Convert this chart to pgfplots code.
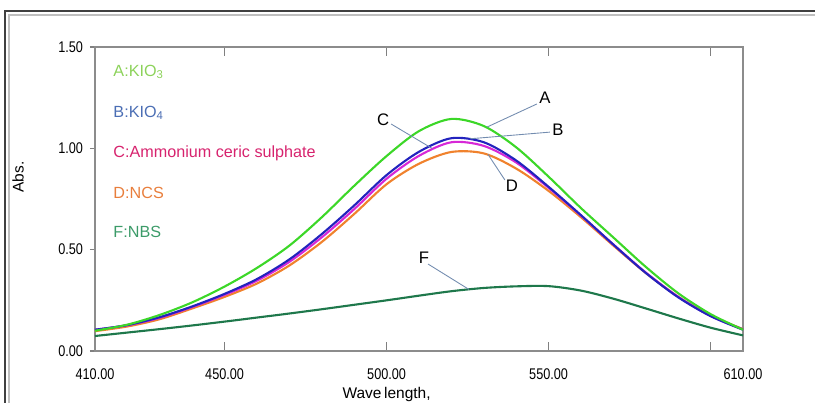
\documentclass[border=0pt]{standalone}
\usepackage{pgfplots}
\pgfplotsset{compat=1.18}
\usepackage{fontspec}
\setmainfont{Liberation Sans}
\newfontfamily\narrowfont[FakeStretch=0.82]{Liberation Sans}
\usetikzlibrary{calc}

\definecolor{cA}{RGB}{60,215,40}
\definecolor{cB}{RGB}{35,35,190}
\definecolor{cC}{RGB}{215,40,215}
\definecolor{cD}{RGB}{240,130,45}
\definecolor{cF}{RGB}{30,120,75}
\definecolor{tA}{RGB}{140,210,90}
\definecolor{tB}{RGB}{75,110,180}
\definecolor{tC}{RGB}{215,35,110}
\definecolor{tD}{RGB}{232,126,60}
\definecolor{tF}{RGB}{60,155,105}
\definecolor{leader}{RGB}{115,140,175}

\pgfplotstableread{
x    A      B      C      D      F
410  0.100  0.105  0.105  0.098  0.074
420  0.130  0.128  0.127  0.121  0.091
430  0.178  0.167  0.164  0.157  0.108
440  0.240  0.220  0.217  0.210  0.126
450  0.318  0.282  0.277  0.267  0.145
460  0.410  0.355  0.347  0.333  0.165
470  0.520  0.452  0.440  0.422  0.185
480  0.660  0.577  0.561  0.538  0.206
490  0.815  0.718  0.700  0.676  0.228
500  0.962  0.868  0.850  0.823  0.250
510  1.085  0.983  0.963  0.924  0.273
520  1.145  1.050  1.030  0.982  0.295
530  1.110  1.030  1.012  0.975  0.311
540  1.005  0.940  0.930  0.900  0.319
550  0.860  0.810  0.805  0.790  0.320
560  0.705  0.670  0.668  0.660  0.298
570  0.560  0.525  0.525  0.520  0.258
580  0.415  0.385  0.387  0.385  0.210
590  0.285  0.265  0.267  0.268  0.161
600  0.182  0.172  0.173  0.175  0.115
610  0.105  0.105  0.107  0.108  0.077
}\spectra

\begin{document}
\begin{tikzpicture}
\useasboundingbox (-1.9,-1.04) rectangle (14.40,7.02);
% window frame
\draw[black!75, line width=0.8pt] (-1.80,-1.3) -- (-1.80,6.80) -- (14.6,6.80);
\draw[black!25, line width=1.2pt] (-1.72,-1.3) -- (-1.72,6.72) -- (14.6,6.72);
\begin{axis}[
  at={(0,0)}, anchor=south west,
  scale only axis, width=12.96cm, height=6.08cm,
  xmin=410, xmax=610, ymin=0, ymax=1.5,
  axis line style={black!45, line width=0.8pt},
  tick style={black!50, line width=0.6pt},
  xtick={410,450,500,550,600,610},
  xticklabels={410.00,450.00,500.00,550.00,,610.00},
  ytick={0,0.5,1,1.5},
  yticklabels={0.00,0.50,1.00,1.50},
  xtick align=inside, ytick align=outside, ytick pos=left,
  xtick style={/pgfplots/major tick length=0.18cm},
  ytick style={/pgfplots/major tick length=0.1cm},
  tick label style={font=\narrowfont\fontsize{8.8}{10}\selectfont, text=black},
  xticklabel style={yshift=-6.5pt},
  yticklabel style={xshift=1pt},
  xlabel={Wave\,length,}, ylabel={Abs.},
  label style={font=\fontsize{8.8}{10}\selectfont},
  xlabel style={at={(axis description cs:0.45,0)}, anchor=north, yshift=-0.6cm},
  ylabel style={at={(axis description cs:0,0.572)}, anchor=south, yshift=1.3cm},
  clip=false,
]
\addplot[cF, line width=1.2pt, smooth] table[x=x, y=F] {\spectra};
\addplot[cD, line width=1.2pt, smooth] table[x=x, y=D] {\spectra};
\addplot[cC, line width=1.2pt, smooth] table[x=x, y=C] {\spectra};
\addplot[cB, line width=1.2pt, smooth] table[x=x, y=B] {\spectra};
\addplot[cA, line width=1.2pt, smooth] table[x=x, y=A] {\spectra};

% legend text
\begin{scope}[every node/.style={anchor=west, inner sep=0pt, font=\fontsize{9.2}{11}\selectfont}]
\node[text=tA] at (axis cs:415.6,1.376) {A:KIO\textsubscript{3}};
\node[text=tB] at (axis cs:415.6,1.174) {B:KIO\textsubscript{4}};
\node[text=tC] at (axis cs:415.6,0.977) {C:Ammonium ceric sulphate};
\node[text=tD] at (axis cs:415.6,0.780) {D:NCS};
\node[text=tF] at (axis cs:415.6,0.587) {F:NBS};
\end{scope}

% leader lines and curve labels
\begin{scope}[every node/.style={inner sep=0pt, font=\fontsize{9.5}{11}\selectfont}]
\draw[leader, line width=0.5pt] (axis cs:546.4,1.219) -- (axis cs:531.0,1.105);
\node at (axis cs:548.9,1.248) {A};
\draw[leader, line width=0.5pt] (axis cs:550.4,1.080) -- (axis cs:525.7,1.047);
\node at (axis cs:552.9,1.090) {B};
\draw[leader, line width=0.5pt] (axis cs:501.4,1.120) -- (axis cs:514.0,1.000);
\node at (axis cs:498.9,1.140) {C};
\draw[leader, line width=0.5pt] (axis cs:536.5,0.844) -- (axis cs:531.3,0.970);
\node at (axis cs:538.7,0.814) {D};
\draw[leader, line width=0.5pt] (axis cs:512.8,0.429) -- (axis cs:525.4,0.304);
\node at (axis cs:511.5,0.459) {F};
\end{scope}
\end{axis}
\end{tikzpicture}
\end{document}
